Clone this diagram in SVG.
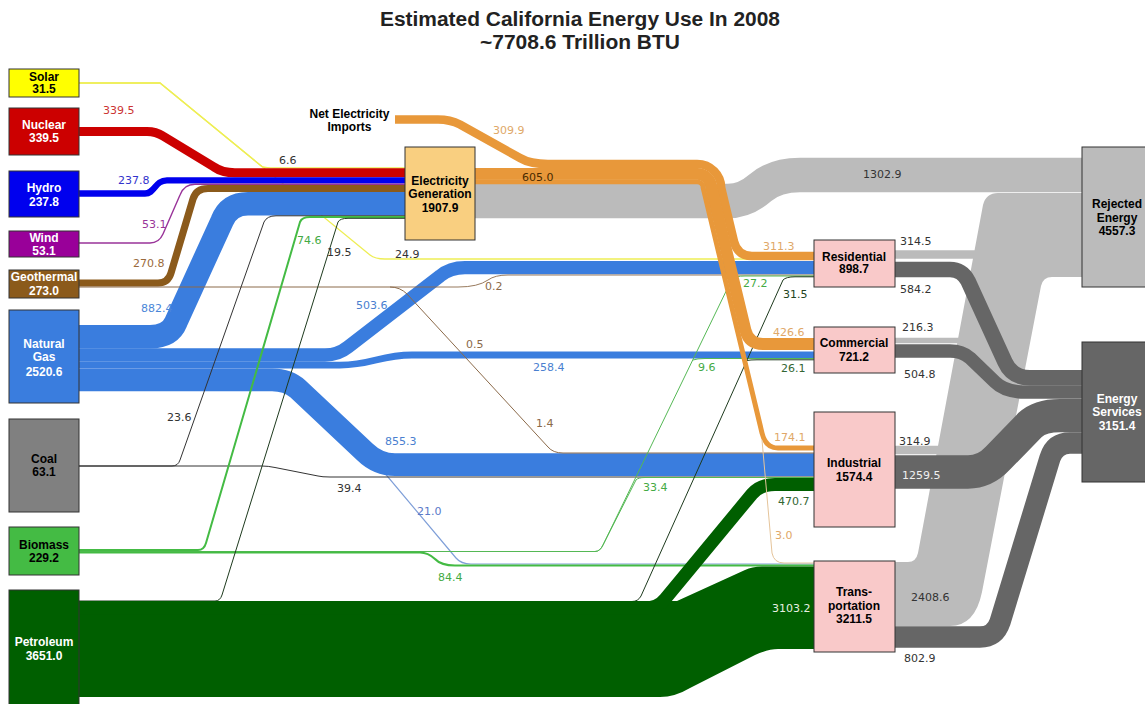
<svg xmlns="http://www.w3.org/2000/svg" width="1145" height="704" viewBox="0 0 1145 704">
<style>
.b{fill:none;stroke-linecap:butt}
.nl{font-family:"Liberation Sans",Arial,sans-serif;font-weight:bold;font-size:12px;text-anchor:middle}
.v{font-family:"DejaVu Sans",Verdana,sans-serif;font-size:11px}
.t{font-family:"Liberation Sans",Arial,sans-serif;font-weight:bold;font-size:20px;text-anchor:middle;fill:#222}
.nd{stroke:#333;stroke-width:1}
.y{stroke:#eeee55;stroke-width:1.3}
.bk{stroke:#333;stroke-width:1}
.pt{stroke:#1e3a1e;stroke-width:1}
.gr{stroke:#44bb44}
.gl{stroke:#3a7dde}
.or{stroke:#e8983a}
.lg{stroke:#bbbbbb}
.dg{stroke:#666666}
</style>
<rect width="1145" height="704" fill="#fff"/>
<g id="title">
<text class="t" x="580" y="26" textLength="400" lengthAdjust="spacingAndGlyphs">Estimated California Energy Use In 2008</text>
<text class="t" x="580" y="49" textLength="200" lengthAdjust="spacingAndGlyphs">~7708.6 Trillion BTU</text>
</g>
<g id="links">
<!-- rejected (light gray) -->
<path class="b lg" stroke-width="34.5" d="M475 201 H728 Q745 201 760 188 Q775 175 800 175 H1082"/>
<path fill="#bbbbbb" d="M890 562 H908 Q916 562 918 553 L983 205 Q986 193 998 193 H1082 V277 H1052 Q1043 277 1041 286 L982 592 Q975 626 950 626 H890 Z"/>
<path class="b lg" stroke-width="8.3" d="M890 254.5 H985"/>
<path class="b lg" stroke-width="5.7" d="M890 340.5 H970"/>
<path class="b lg" stroke-width="8.3" d="M890 450 H950"/>
<!-- solar -->
<path class="b y" d="M79 83 H160 L370 255 Q375 259 385 259 H814"/>
<path class="b y" d="M79 83 H160 L262 166.6 Q266 168 275 168 H405"/>
<!-- gas to transport thin -->
<path class="b" stroke="#7f9fd8" stroke-width="1.2" d="M79 390.5 H305 Q315 390.5 320 396 L456 558 Q461 564 471 564 H814"/>
<!-- electricity inputs -->
<path class="b" stroke="#cc0000" stroke-width="9" d="M79 131.5 H147 Q156 131.5 163 136 L214 167 Q222 172.7 235 172.7 H405"/>
<path class="b" stroke="#0000ee" stroke-width="6.3" d="M79 193.5 H145 C155 193.5 155 180.3 167 180.3 H405"/>
<path class="b" stroke="#993399" stroke-width="1.4" d="M79 243 H150 Q159 243 163 234 L180 195 Q184 184.2 195 184.2 H405"/>
<path class="b" stroke="#8b5a1b" stroke-width="7.2" d="M79 283 H158 Q168 283 171 273 L193 199 Q196 188.5 208 188.5 H405"/>
<!-- natural gas -->
<path class="b gl" stroke-width="23.4" d="M79 336.7 H150 Q170 336.7 176 322 L222 221 Q229 203.8 248 203.8 H405"/>
<path class="b gl" stroke-width="13.3" d="M79 355 H325 Q338 355 348 347 L440 276 Q450 267.6 465 267.6 H814"/>
<path class="b gl" stroke-width="6.8" d="M79 365.1 H340 C372 365.1 380 355 412 355 H814"/>
<path class="b gl" stroke-width="22.7" d="M79 379.8 H272 Q288 379.8 298 389 L365 452 Q378 464.6 395 464.6 H814"/>
<!-- geothermal thin -->
<path class="b" stroke="#8b6a4a" stroke-width="1" d="M79 287 H390 Q400 287 407 294 L548 447 Q553 453 563 453 H814"/>
<path class="b" stroke="#8b6a4a" stroke-width="0.9" d="M390 287 H458 Q478 287 488 280 Q495 275 508 275 H814"/>
<!-- coal -->
<path class="b bk" d="M79 466 H172 Q178 466 180 460 L264 222 Q267 215.8 276 215.8 H405"/>
<path class="b bk" stroke-width="1.2" d="M79 466 H262 Q268 466 275 467.5 L318 476 Q322 477 330 477 H814"/>
<!-- biomass -->
<path class="b gr" stroke-width="2" d="M79 550 H198 Q204 550 206 543 L300 222 Q302 217.1 310 217.1 H405"/>
<path class="b" stroke="#55b855" stroke-width="1" d="M79 551.5 H595 Q600 551.5 603 545 L732 279 Q735 276 745 276 H814"/>
<path class="b" stroke="#55b855" stroke-width="1" d="M693 360 Q697 358.5 705 358.5 H814"/>
<path class="b" stroke="#55b855" stroke-width="1" d="M79 551.5 H595 Q600 551.5 603 545 L636 480 Q638 477.5 645 477.5 H814"/>
<path class="b gr" stroke-width="2.2" d="M79 552.5 H420 Q428 552.5 435 559 Q441 565.5 455 565.5 H814"/>
<!-- petroleum -->
<path class="b pt" d="M79 601 H215 Q220 601 222 595 L338 222 Q340 218.3 348 218.3 H405"/>
<path class="b pt" d="M79 601.5 H632 Q638 601.5 641 596 L783 280 Q786 276.8 795 276.8 H814"/>
<path class="b pt" d="M747 360.5 Q750 359.8 757 359.8 H814"/>
<path fill="#005f00" d="M79 601 H677 L745 570 Q752 566.5 762 566.5 H814 V649 H778 Q768 649 755 655 L690 688 Q675 697 660 697 H79 Z"/>
<path class="b" stroke="#005f00" stroke-width="13" d="M79 608 H645 Q658 608 665 599 L752 494 Q760 484.5 775 484.5 H814"/>
<!-- electricity (orange) -->
<path class="b or" stroke-width="8.6" d="M395 119.5 H438 Q450 119.5 460 124.5 L520 158 Q530 164 548 164 H697.2 A24 24 0 0 1 721.2 188 L734 241.5 Q737.5 256 752 256 H814"/>
<path class="b or" stroke-width="11.8" d="M475 173.9 H697.2 A14.1 14.1 0 0 1 711.3 188 L745.4 330 Q748.8 344 763 344 H814"/>
<path class="b or" stroke-width="5" d="M475 181.8 H697 A6.2 6.2 0 0 1 703.2 188 L762 433 Q765.6 448 778 448 H814"/>
<path class="b" stroke="#e5c49a" stroke-width="1" d="M762 440 L772 553 Q774 563 784 563 H814"/>
<!-- energy services (dark gray) -->
<path class="b dg" stroke-width="15.5" d="M890 269.5 H950 Q962 269.5 968 281 L1005 362 Q1012 377.7 1030 377.7 H1082"/>
<path class="b dg" stroke-width="13.4" d="M890 351 H950 Q962 351 970 358 L995 382 Q1005 392 1025 392 H1082"/>
<path class="b dg" stroke-width="33.4" d="M890 472 H968 Q985 472 998 458 L1030 425 Q1040 415.6 1060 415.6 H1082"/>
<path class="b dg" stroke-width="21.3" d="M890 637 H980 Q995 637 1000 622 L1050 458 Q1055 443 1070 443 H1082"/>
</g>
<g id="link-labels" class="v">
<text x="103" y="114" fill="#cc3333">339.5</text>
<text x="118" y="184" fill="#3333cc">237.8</text>
<text x="279" y="164" fill="#333">6.6</text>
<text x="142" y="228" fill="#993399">53.1</text>
<text x="133" y="267" fill="#9a6a3a">270.8</text>
<text x="141" y="312" fill="#4a86d8">882.4</text>
<text x="297" y="244" fill="#44aa44">74.6</text>
<text x="327" y="256" fill="#333">19.5</text>
<text x="395" y="258" fill="#333">24.9</text>
<text x="493" y="134" fill="#e0a868">309.9</text>
<text x="522" y="181" fill="#4a2a00">605.0</text>
<text x="863" y="178" fill="#333">1302.9</text>
<text x="356" y="309" fill="#4a7fd0">503.6</text>
<text x="485" y="290" fill="#8b6a4a">0.2</text>
<text x="466" y="348" fill="#8b6a4a">0.5</text>
<text x="533" y="371" fill="#4a7fd0">258.4</text>
<text x="536" y="427" fill="#8b6a4a">1.4</text>
<text x="385" y="445" fill="#4a7fd0">855.3</text>
<text x="698" y="371" fill="#44aa44">9.6</text>
<text x="743" y="287" fill="#44aa44">27.2</text>
<text x="783" y="298" fill="#224422">31.5</text>
<text x="763" y="250" fill="#e0a868">311.3</text>
<text x="773" y="336" fill="#e0a868">426.6</text>
<text x="781" y="372" fill="#336633">26.1</text>
<text x="774" y="441" fill="#e0a868">174.1</text>
<text x="900" y="245" fill="#333">314.5</text>
<text x="900" y="293" fill="#333">584.2</text>
<text x="902" y="331" fill="#333">216.3</text>
<text x="904" y="378" fill="#333">504.8</text>
<text x="899" y="445" fill="#333">314.9</text>
<text x="902" y="479" fill="#f0f0f0">1259.5</text>
<text x="778" y="505" fill="#336633">470.7</text>
<text x="775" y="539" fill="#e0a868">3.0</text>
<text x="772" y="612" fill="#e8f0e0">3103.2</text>
<text x="911" y="601" fill="#333">2408.6</text>
<text x="904" y="662" fill="#333">802.9</text>
<text x="167" y="421" fill="#333">23.6</text>
<text x="337" y="492" fill="#333">39.4</text>
<text x="417" y="515" fill="#5a7ac8">21.0</text>
<text x="438" y="581" fill="#44aa44">84.4</text>
<text x="643" y="491" fill="#44aa44">33.4</text>
</g>
<g id="node-solar"><rect class="nd" x="9" y="69" width="70" height="28" fill="#ffff00"/><text class="nl" x="44" y="81" fill="#000">Solar</text><text class="nl" x="44" y="93" fill="#000">31.5</text></g>
<g id="node-nuclear"><rect class="nd" x="9" y="108" width="70" height="47" fill="#cc0000"/><text class="nl" x="44" y="129" fill="#fff">Nuclear</text><text class="nl" x="44" y="142" fill="#fff">339.5</text></g>
<g id="node-hydro"><rect class="nd" x="9" y="171" width="70" height="46" fill="#0000ee"/><text class="nl" x="44" y="192" fill="#fff">Hydro</text><text class="nl" x="44" y="206" fill="#fff">237.8</text></g>
<g id="node-wind"><rect class="nd" x="9" y="231" width="70" height="26" fill="#990099"/><text class="nl" x="44" y="242" fill="#fff">Wind</text><text class="nl" x="44" y="255" fill="#fff">53.1</text></g>
<g id="node-geothermal"><rect class="nd" x="9" y="270" width="70" height="28" fill="#8b5a1b"/><text class="nl" x="44" y="281" fill="#fff">Geothermal</text><text class="nl" x="44" y="295" fill="#fff">273.0</text></g>
<g id="node-gas"><rect class="nd" x="9" y="310" width="70" height="93" fill="#3a7dde"/><text class="nl" x="44" y="348" fill="#fff">Natural</text><text class="nl" x="44" y="361" fill="#fff">Gas</text><text class="nl" x="44" y="376" fill="#fff">2520.6</text></g>
<g id="node-coal"><rect class="nd" x="9" y="419" width="70" height="93" fill="#808080"/><text class="nl" x="44" y="463" fill="#000">Coal</text><text class="nl" x="44" y="476" fill="#000">63.1</text></g>
<g id="node-biomass"><rect class="nd" x="9" y="527" width="70" height="48" fill="#44bb44"/><text class="nl" x="44" y="549" fill="#000">Biomass</text><text class="nl" x="44" y="562" fill="#000">229.2</text></g>
<g id="node-petroleum"><rect class="nd" x="9" y="590" width="70" height="118" fill="#005f00"/><text class="nl" x="44" y="646" fill="#fff">Petroleum</text><text class="nl" x="44" y="660" fill="#fff">3651.0</text></g>
<g id="node-imports"><text class="nl" x="349.5" y="118" fill="#000">Net Electricity</text><text class="nl" x="349.5" y="131" fill="#000">Imports</text></g>
<g id="node-electricity"><rect class="nd" x="405" y="147" width="70" height="93" fill="#f9cf80"/><text class="nl" x="440" y="185" fill="#000">Electricity</text><text class="nl" x="440" y="198" fill="#000">Generation</text><text class="nl" x="440" y="212" fill="#000">1907.9</text></g>
<g id="node-residential"><rect class="nd" x="814" y="240" width="81" height="47" fill="#f9c9c9"/><text class="nl" x="854" y="261" fill="#000">Residential</text><text class="nl" x="854" y="273" fill="#000">898.7</text></g>
<g id="node-commercial"><rect class="nd" x="814" y="327" width="81" height="46" fill="#f9c9c9"/><text class="nl" x="854" y="347" fill="#000">Commercial</text><text class="nl" x="854" y="361" fill="#000">721.2</text></g>
<g id="node-industrial"><rect class="nd" x="814" y="412" width="81" height="115" fill="#f9c9c9"/><text class="nl" x="854" y="467" fill="#000">Industrial</text><text class="nl" x="854" y="481" fill="#000">1574.4</text></g>
<g id="node-transportation"><rect class="nd" x="814" y="561" width="81" height="91" fill="#f9c9c9"/><text class="nl" x="854" y="596" fill="#000">Trans-</text><text class="nl" x="854" y="610" fill="#000">portation</text><text class="nl" x="854" y="623" fill="#000">3211.5</text></g>
<g id="node-rejected"><rect class="nd" x="1082" y="147" width="68" height="140" fill="#bbbbbb"/><text class="nl" x="1117" y="208" fill="#000">Rejected</text><text class="nl" x="1117" y="222" fill="#000">Energy</text><text class="nl" x="1117" y="235" fill="#000">4557.3</text></g>
<g id="node-services"><rect class="nd" x="1082" y="342" width="68" height="140" fill="#666666"/><text class="nl" x="1117" y="403" fill="#fff">Energy</text><text class="nl" x="1117" y="416" fill="#fff">Services</text><text class="nl" x="1117" y="430" fill="#fff">3151.4</text></g>
</svg>
